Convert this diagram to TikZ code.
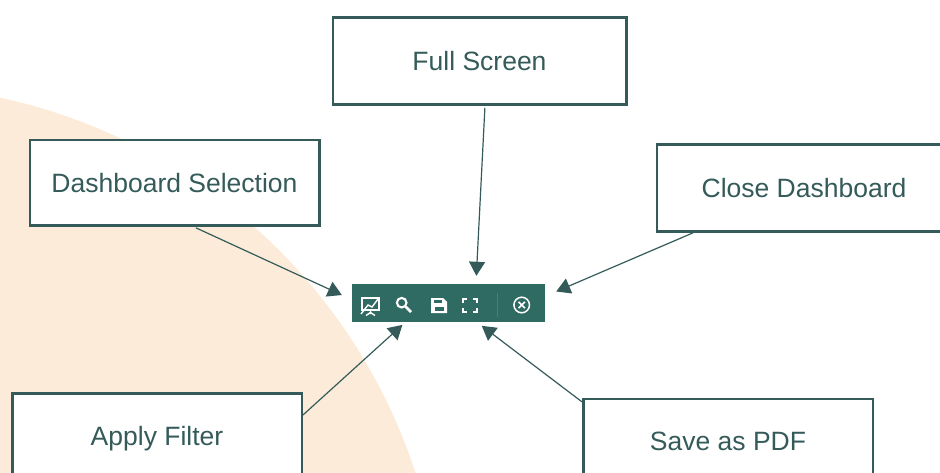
\documentclass[tikz,border=0pt]{standalone}
\usepackage{fontspec}
\setmainfont{Liberation Sans}
\usepackage{tikz}
\usetikzlibrary{arrows.meta}
\definecolor{inkgreen}{HTML}{345B59}
\definecolor{barGreen}{HTML}{2F6B63}
\definecolor{peach}{HTML}{FDEBD9}
\tikzset{
callout/.style={
  rectangle,
  draw=inkgreen,
  fill=white,
  line width=2.5pt,
  text=inkgreen,
  inner sep=0pt,
  text height=19pt,
  text depth=0pt,
  minimum width=289.5pt,
  minimum height=85.5pt,
  font=\fontsize{26.5}{30}\selectfont
  },
toolbar/.style={
  rectangle,
  fill=barGreen,
  inner sep=0pt,
  minimum width=193pt,
  minimum height=38pt
  },
pointer/.style={
  ->,
  draw=inkgreen,
  line width=1.2pt
  },
icon/.style={
  draw=white,
  line width=1.8pt
  }
}

\begin{document}
\begin{tikzpicture}[x=1pt,y=-1pt,>={Triangle[length=14pt,width=16pt]}]
\useasboundingbox (0,0) rectangle (940,473);
\clip (0,0) rectangle (940,473);
\fill[peach] (-119,647) circle (562);

\node[callout,minimum width=293.5pt,minimum height=87pt] (fullscreen) at (479.5,61) {Full Screen};
\node[callout] (dashsel) at (174.5,183) {Dashboard Selection};
\node[callout,minimum width=294pt,minimum height=87pt] (closedash) at (804,188) {Close Dashboard};
\node[callout,minimum height=84.5pt] (applyfilter) at (157,435.5) {Apply Filter};
\node[callout,minimum height=84pt] (savepdf) at (728,441) {Save as PDF};
\node[toolbar] (bar) at (448.5,303) {};

\draw[pointer,shorten <=2pt,shorten >=11pt] (dashsel.-66) -- (bar.178);
\draw[pointer,shorten <=2pt,shorten >=8pt] (fullscreen.-83) -- (bar.35);
\draw[pointer,shorten >=12pt] (closedash.202) -- (bar.4.9);
\draw[pointer,shorten >=4pt] (applyfilter.8.2) -- (bar.204.1);
\draw[pointer,shorten >=6pt] (savepdf.165.5) -- (bar.-34.2);

\begin{scope}[icon]
% chart
\draw[line width=1.4pt] (362,298) -- (379,298) -- (379,310) -- (362,310) -- cycle;
\draw[line width=1.4pt] (361,314) -- (368,305) -- (372,307) -- (378,299);
\draw[line width=1.4pt] (370.5,310) -- (370.5,314) (366,315.5) -- (370.5,312.5) -- (375,315.5);
% search
\draw[line width=2.1pt] (401.7,302.7) circle (4.8);
\draw[line width=2.8pt] (405.5,306.5) -- (411,312);
% save
\fill[white] (431,298) -- (443,298) -- (447,302) -- (447,313) -- (431,313) -- cycle;
\fill[barGreen] (434,299.5) rectangle (442,303);
\fill[barGreen] (434.5,307) rectangle (443.5,310.5);
% full screen
\draw (462.7,303) -- (462.7,298.7) -- (467,298.7);
\draw (473,298.7) -- (477.3,298.7) -- (477.3,303);
\draw (462.7,308) -- (462.7,312.3) -- (467,312.3);
\draw (473,312.3) -- (477.3,312.3) -- (477.3,308);
% close
\draw[line width=1.5pt] (521.7,305) circle (7.8);
\draw[line width=1.5pt] (518.5,301.8) -- (524.9,308.2) (524.9,301.8) -- (518.5,308.2);
\end{scope}
\draw[barGreen!70!white!80!black,line width=.7pt] (497,293) -- (497,317);
\end{tikzpicture}
\end{document}
